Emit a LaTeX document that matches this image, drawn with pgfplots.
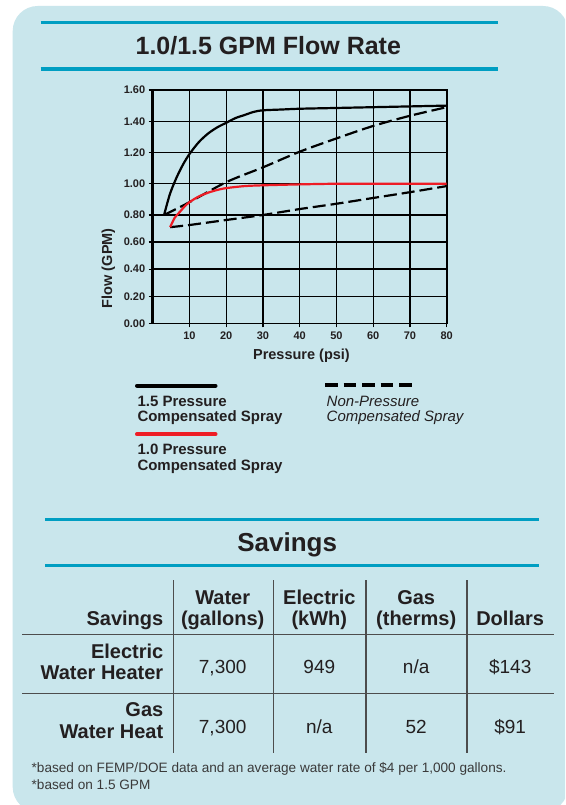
\documentclass[border=0pt]{standalone}
\usepackage{pgfplots}
\pgfplotsset{compat=1.18}
\usepackage{fontspec}
\setmainfont{Liberation Sans}
\definecolor{bgblue}{HTML}{C9E6EC}
\definecolor{tealline}{HTML}{009EC2}
\definecolor{pcred}{HTML}{EE1C25}
\definecolor{ink}{HTML}{231F20}
\definecolor{gridgray}{HTML}{4D4D4D}
\definecolor{footgray}{HTML}{3A3A3A}
\newcommand{\fs}[1]{\fontsize{#1}{#1}\selectfont}
\tikzset{lab/.style={inner sep=0pt, outer sep=0pt, text=ink}}
\begin{document}
\begin{tikzpicture}[x=1pt,y=1pt]
\useasboundingbox (0,0) rectangle (565,-805);
\clip (0,0) rectangle (565,-805);
\fill[white] (0,0) rectangle (565,-805);
\fill[bgblue, rounded corners=25pt] (12.7,-6) rectangle (568,-812);
% title
\draw[tealline, line width=3.3pt] (40.7,-22.7) -- (497.7,-22.7);
\draw[tealline, line width=3.3pt] (40.7,-69) -- (497.7,-69);
\node[lab, anchor=base, font=\bfseries\fs{25}] at (268.3,-55) {1.0/1.5 GPM Flow Rate};

\begin{axis}[
  at={(152.7pt,-323.3pt)}, anchor=south west,
  scale only axis, width=294pt, height=233.3pt,
  xmin=0, xmax=80, ymin=0, ymax=1.6,
  y coord trafo/.code={\pgfmathparse{(#1<=0.8)?(#1*135.4):(108.32+(#1-0.8)*156.25)}},
  xtick={10,20,30,40,50,60,70,80},
  xticklabels={10,20,30,40,50,60,70,80},
  ytick={0,0.2,0.4,0.6,0.8,1.0,1.2,1.4,1.6},
  yticklabels={0.00,0.20,0.40,0.60,0.80,1.00,1.20,1.40,1.60},
  xtick pos=bottom, ytick pos=left,
  tick align=outside, major tick length=4pt,
  every tick/.style={black, line width=1.2pt},
  grid=major, major grid style={black, line width=1.3pt},
  axis line style={black, line width=1.6pt},
  tick label style={font=\bfseries\fs{11}, text=ink},
  xticklabel style={yshift=-1pt},
  label style={font=\bfseries\fs{14.5}, text=ink},
  xlabel={Pressure (psi)},
  xlabel style={at={(axis description cs:0.506,0)}, anchor=center, yshift=-32.7pt},
  ylabel={Flow (GPM)},
  ylabel style={at={(axis description cs:-0.151,0.236)}, anchor=center},
  clip=false,
]
% non-pressure compensated (upper, 1.5)
\addplot[black, line width=2.2pt, dash pattern=on 13pt off 5pt, smooth] coordinates {
(3.1,0.80) (10,0.882) (20,1.01) (30,1.105) (40,1.205) (50,1.29) (60,1.37) (70,1.435) (80,1.49)};
% non-pressure compensated (lower, 1.0)
\addplot[black, line width=2.2pt, dash pattern=on 13pt off 5pt, smooth] coordinates {
(4.75,0.71) (10,0.726) (20,0.763) (30,0.80) (40,0.838) (50,0.872) (60,0.909) (70,0.946) (80,0.985)};
% 1.5 pressure compensated
\addplot[black, line width=2.2pt, smooth] coordinates {
(3.1,0.80) (4.7,0.935) (6.5,1.04) (8.3,1.125) (10,1.19) (12.5,1.265) (15,1.32) (17.5,1.36) (20,1.39) (22.5,1.42) (25,1.44) (27.5,1.46) (30,1.47) (35,1.475) (40,1.48) (50,1.485) (60,1.49) (70,1.495) (80,1.50)};
% 1.0 pressure compensated
\addplot[pcred, line width=2.2pt, smooth] coordinates {
(4.75,0.71) (6,0.78) (7.4,0.82) (8.7,0.855) (10,0.882) (12.5,0.918) (15,0.942) (17.5,0.96) (20,0.972) (25,0.985) (30,0.99) (40,0.996) (50,1.0) (60,1.0) (70,1.0) (80,1.0)};
\draw[black, line width=3pt] (rel axis cs:0,0) -- (rel axis cs:0,1);
\end{axis}

% legend
\draw[black, line width=4pt, line cap=round] (137,-385.7) -- (215.5,-385.7);
\draw[pcred, line width=4pt, line cap=round] (137,-434.3) -- (215.5,-434.3);
\draw[black, line width=3.5pt, dash pattern=on 12.7pt off 5.8pt] (325,-385) -- (411.7,-385);
\node[lab, anchor=base west, font=\bfseries\fs{15}] at (137.5,-406.7) {1.5 Pressure};
\node[lab, anchor=base west, font=\bfseries\fs{15}] at (137.5,-421.7) {Compensated Spray};
\node[lab, anchor=base west, font=\bfseries\fs{15}] at (137.5,-454.3) {1.0 Pressure};
\node[lab, anchor=base west, font=\bfseries\fs{15}] at (137.5,-470) {Compensated Spray};
\node[lab, anchor=base west, font=\itshape\fs{15}] at (326.7,-406.7) {Non-Pressure};
\node[lab, anchor=base west, font=\itshape\fs{15}] at (326.7,-421.7) {Compensated Spray};

% savings title
\draw[tealline, line width=3pt] (45,-519) -- (539.3,-519);
\draw[tealline, line width=3pt] (45,-565) -- (539.3,-565);
\node[lab, anchor=base, font=\bfseries\fs{26}] at (287.2,-551.7) {Savings};

% table grid
\draw[gridgray, line width=1.3pt] (22.3,-634.3) -- (554,-634.3);
\draw[gridgray, line width=1.3pt] (22.3,-693.3) -- (554,-693.3);
\foreach \xx in {173.3,273.3,366,467}{
  \draw[gridgray, line width=1.3pt] (\xx,-580) -- (\xx,-753.3);
}
% header
\node[lab, anchor=base east, font=\bfseries\fs{20}] at (163.3,-625) {Savings};
\node[lab, anchor=base, font=\bfseries\fs{20}] at (222.7,-604.3) {Water};
\node[lab, anchor=base, font=\bfseries\fs{20}] at (222.7,-625) {(gallons)};
\node[lab, anchor=base, font=\bfseries\fs{20}] at (319.3,-604.3) {Electric};
\node[lab, anchor=base, font=\bfseries\fs{20}] at (319.3,-625) {(kWh)};
\node[lab, anchor=base, font=\bfseries\fs{20}] at (416.2,-604.3) {Gas};
\node[lab, anchor=base, font=\bfseries\fs{20}] at (416.2,-625) {(therms)};
\node[lab, anchor=base, font=\bfseries\fs{20}] at (510.2,-625) {Dollars};
% row 1
\node[lab, anchor=base east, font=\bfseries\fs{20}] at (163.3,-658) {Electric};
\node[lab, anchor=base east, font=\bfseries\fs{20}] at (163.3,-679.5) {Water Heater};
\node[lab, anchor=base, font=\fs{19}] at (222.7,-673.3) {7,300};
\node[lab, anchor=base, font=\fs{19}] at (319.3,-673.3) {949};
\node[lab, anchor=base, font=\fs{19}] at (416.2,-673.3) {n/a};
\node[lab, anchor=base, font=\fs{19}] at (510.2,-673.3) {\$143};
% row 2
\node[lab, anchor=base east, font=\bfseries\fs{20}] at (163.3,-716) {Gas};
\node[lab, anchor=base east, font=\bfseries\fs{20}] at (163.3,-738) {Water Heat};
\node[lab, anchor=base, font=\fs{19}] at (222.7,-733.3) {7,300};
\node[lab, anchor=base, font=\fs{19}] at (319.3,-733.3) {n/a};
\node[lab, anchor=base, font=\fs{19}] at (416.2,-733.3) {52};
\node[lab, anchor=base, font=\fs{19}] at (510.2,-733.3) {\$91};
% footnotes
\node[lab, text=footgray, anchor=base west, font=\fs{13.6}] at (31.7,-772.3) {*based on FEMP/DOE data and an average water rate of \$4 per 1,000 gallons.};
\node[lab, text=footgray, anchor=base west, font=\fs{13.6}] at (31.7,-789) {*based on 1.5 GPM};
\end{tikzpicture}
\end{document}
